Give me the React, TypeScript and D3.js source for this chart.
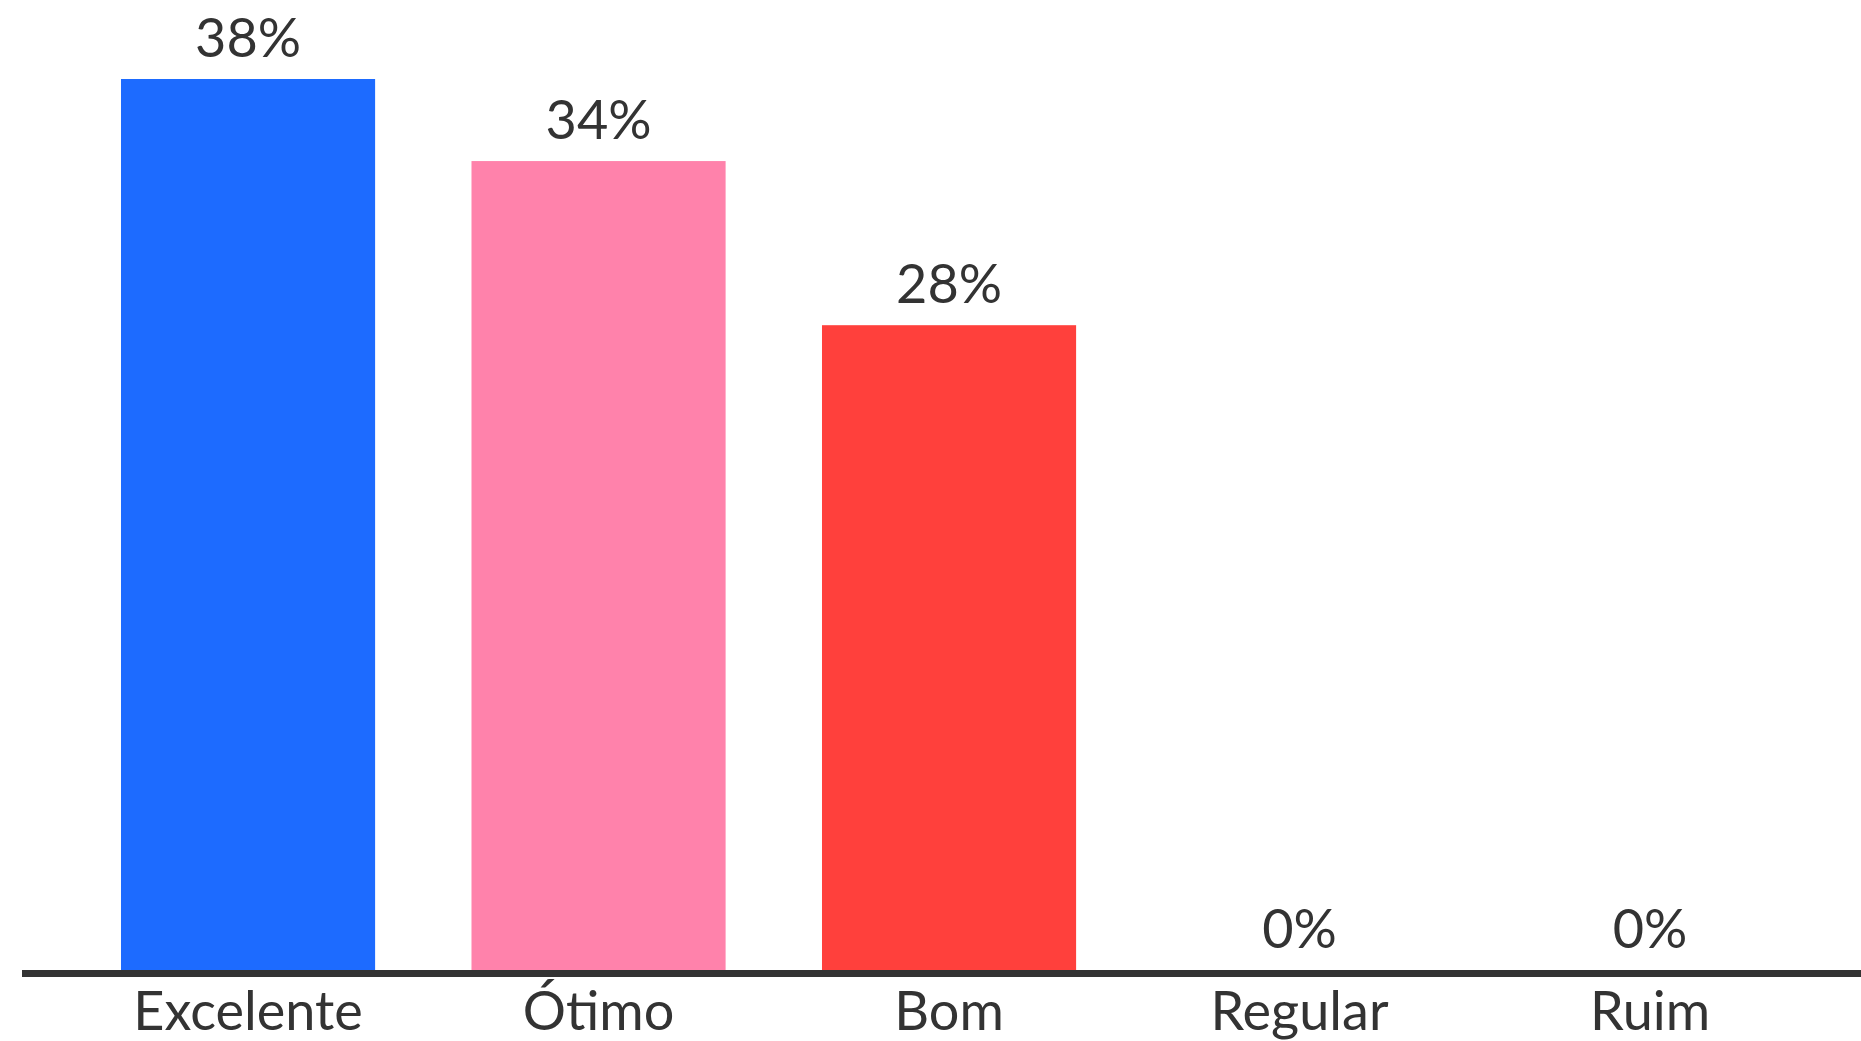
import React from "react";
import * as d3 from "d3";

const categories = ["Excelente", "Ótimo", "Bom", "Regular", "Ruim"];
const values = [38, 34.5, 27.5, 0, 0];
const valueLabels = ["38%", "34%", "28%", "0%", "0%"];
const colors = ["#1d6bff", "#ff82ab", "#ff403c", "#cccccc", "#cccccc"];

const W = 1861;
const H = 1041;

export default function App() {
  const x = d3
    .scaleBand<string>()
    .domain(categories)
    .range([72.8, 1825.3])
    .paddingInner(0.275)
    .paddingOuter(0.1375);
  const y = d3.scaleLinear().domain([0, 38]).range([970, 79]);
  const font = "Lato, 'Open Sans', sans-serif";
  return (
    <svg
      width={W}
      height={H}
      style={{ position: "absolute", left: 0, top: 0, background: "#fff" }}
    >
      {categories.map((c, i) => (
        <g key={c}>
          {values[i] > 0 && (
            <rect
              x={x(c)}
              y={y(values[i])}
              width={x.bandwidth()}
              height={y(0) - y(values[i])}
              fill={colors[i]}
            />
          )}
          <text
            x={(x(c) as number) + x.bandwidth() / 2}
            y={y(values[i]) - 22}
            textAnchor="middle"
            fontFamily={font}
            fontSize={54}
            fill="#333"
          >
            {valueLabels[i]}
          </text>
          <text
            x={(x(c) as number) + x.bandwidth() / 2}
            y={1030}
            textAnchor="middle"
            fontFamily={font}
            fontSize={54}
            fill="#333"
          >
            {c}
          </text>
        </g>
      ))}
      <line x1={22} x2={W} y1={973.5} y2={973.5} stroke="#333" strokeWidth={7} />
    </svg>
  );
}
